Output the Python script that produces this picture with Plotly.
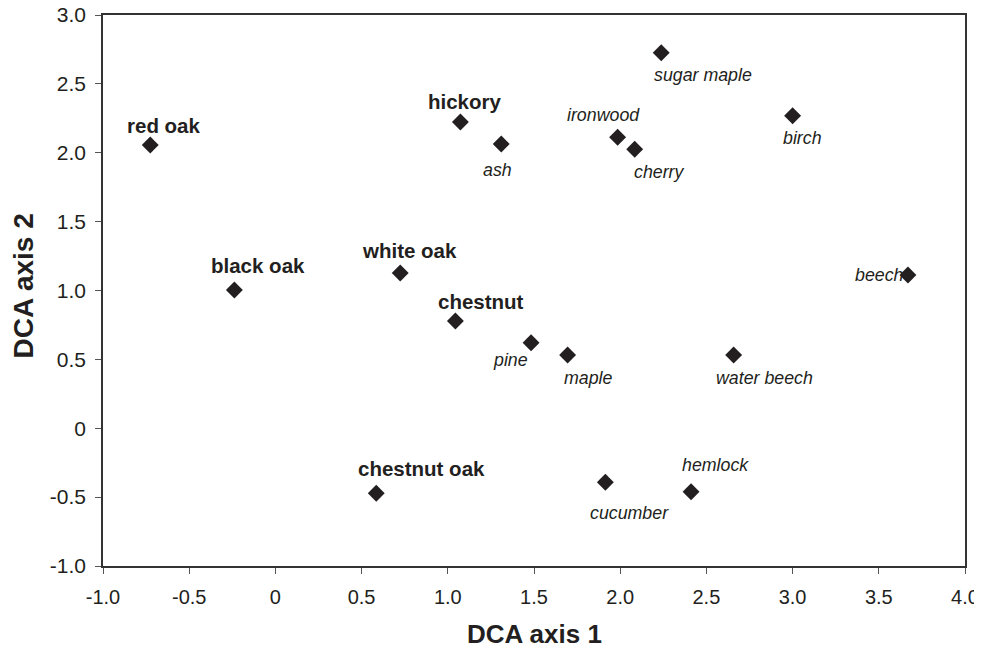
import plotly.graph_objects as go

species = ["red oak", "black oak", "hickory", "ash", "white oak", "chestnut", "pine", "maple",
           "sugar maple", "ironwood", "cherry", "birch", "beech", "water beech",
           "chestnut oak", "cucumber", "hemlock"]
axis1 = [-0.726, -0.238, 1.073, 1.31, 0.724, 1.044, 1.483, 1.695,
         2.238, 1.985, 2.084, 3.0, 3.669, 2.658,
         0.585, 1.914, 2.411]
axis2 = [2.056, 1.004, 2.223, 2.064, 1.127, 0.779, 0.621, 0.532,
         2.726, 2.112, 2.025, 2.269, 1.113, 0.532,
         -0.472, -0.392, -0.461]
bold_group = ["red oak", "black oak", "hickory", "white oak", "chestnut", "chestnut oak"]

# label offsets in pixels (dx, dy upward)
offsets = {
    "red oak": (14, 20), "black oak": (24, 24), "hickory": (5, 21), "ash": (-4, -26),
    "white oak": (9, 23), "chestnut": (26, 19), "pine": (-21, -17), "maple": (21, -23),
    "sugar maple": (42, -22), "ironwood": (-14, 22), "cherry": (25, -23), "birch": (10, -22),
    "beech": (-28, 0), "water beech": (31, -23), "chestnut oak": (45, 25),
    "cucumber": (24, -31), "hemlock": (24, 27),
}

tick_vals_x = [-1.0, -0.5, 0, 0.5, 1.0, 1.5, 2.0, 2.5, 3.0, 3.5, 4.0]
tick_text_x = ["-1.0", "-0.5", "0", "0.5", "1.0", "1.5", "2.0", "2.5", "3.0", "3.5", "4.0"]
tick_vals_y = [-1.0, -0.5, 0, 0.5, 1.0, 1.5, 2.0, 2.5, 3.0]
tick_text_y = ["-1.0", "-0.5", "0", "0.5", "1.0", "1.5", "2.0", "2.5", "3.0"]
x_title = "DCA axis 1"
y_title = "DCA axis 2"

FONT = "Liberation Sans, Arial, sans-serif"
INK = "#231f20"

fig = go.Figure()
fig.add_trace(go.Scatter(
    x=axis1, y=axis2, mode="markers",
    marker=dict(symbol="diamond", size=13, color=INK),
    hoverinfo="text", text=species, showlegend=False,
))

for name, xv, yv in zip(species, axis1, axis2):
    dx, dy = offsets[name]
    if name in bold_group:
        txt = "<b>" + name + "</b>"
        fnt = dict(family=FONT, size=20.5, color=INK)
    else:
        txt = "<i>" + name + "</i>"
        fnt = dict(family=FONT, size=17.8, color=INK)
    fig.add_annotation(x=xv, y=yv, text=txt, showarrow=False, xshift=dx, yshift=dy,
                       font=fnt, xanchor="center", yanchor="middle")

# axis titles
fig.add_annotation(xref="paper", yref="paper", x=0.5, y=0, yshift=-68,
                   text="<b>" + x_title + "</b>", showarrow=False,
                   xanchor="center", yanchor="middle",
                   font=dict(family=FONT, size=26, color=INK))
fig.add_annotation(xref="paper", yref="paper", x=0, y=0.5, xshift=-80, yshift=4,
                   text="<b>" + y_title + "</b>", showarrow=False, textangle=-90,
                   xanchor="center", yanchor="middle",
                   font=dict(family=FONT, size=28, color=INK))

axis_common = dict(
    showgrid=False, zeroline=False, showline=True, linecolor="#333333", linewidth=1.5,
    mirror=True, ticks="outside", ticklen=6, tickcolor="#555555", tickwidth=1,
    automargin=False, ticklabeloverflow="allow",
)
fig.update_xaxes(range=[-1.0, 4.0], tickvals=tick_vals_x, ticktext=tick_text_x,
                 tickfont=dict(family=FONT, size=20, color=INK), ticklabelstandoff=6,
                 **axis_common)
fig.update_yaxes(range=[-1.0, 3.0], tickvals=tick_vals_y, ticktext=tick_text_y,
                 tickfont=dict(family=FONT, size=21, color=INK), ticklabelstandoff=5,
                 **axis_common)

# page body adds ~8px margin, so the figure is a bit smaller than the window
fig.update_layout(
    width=974, height=641,
    margin=dict(l=95, r=17, t=7, b=83),
    paper_bgcolor="white", plot_bgcolor="white",
)

fig.write_html("out.html")
